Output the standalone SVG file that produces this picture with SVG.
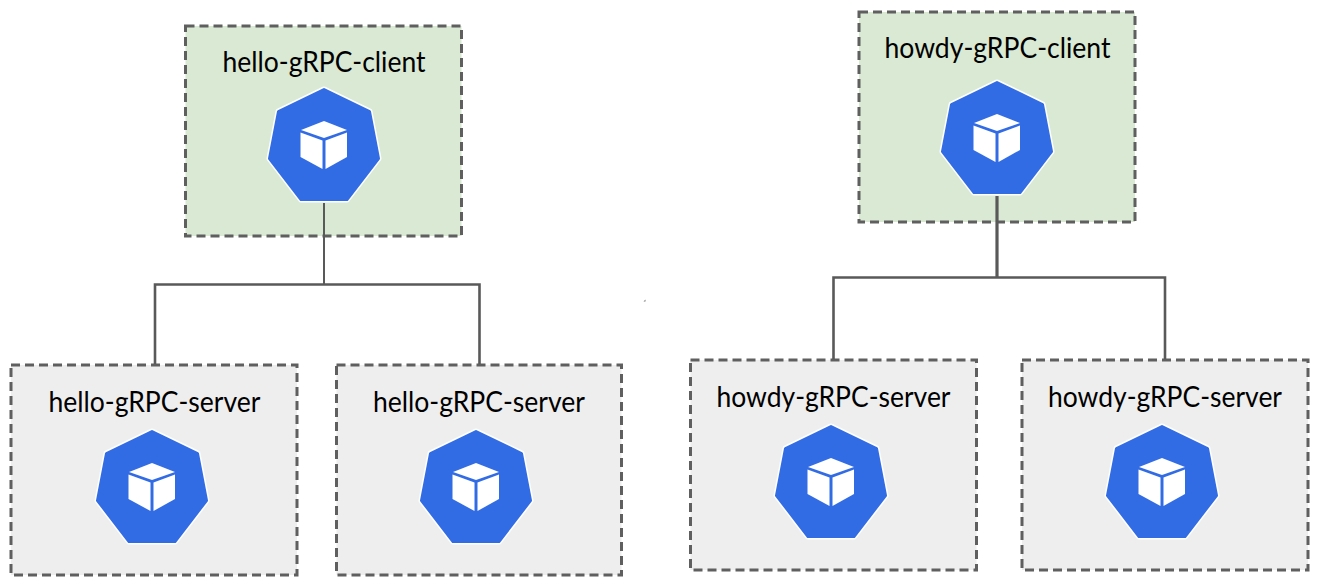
<svg xmlns="http://www.w3.org/2000/svg" xmlns:xlink="http://www.w3.org/1999/xlink" width="1320" height="588" viewBox="0 0 1320 588">
<style>
.box{stroke:#5f5f5f;stroke-width:3;stroke-dasharray:9 5}
.client{fill:#d9e9d3}
.server{fill:#eeeeee}
.lbl{font-family:"Lato","Carlito","Liberation Sans",sans-serif;font-size:28px;fill:#000;text-anchor:middle}
.line{fill:none;stroke:#595959}
</style>
<defs>
<g id="pod" stroke-linejoin="round">
<path d="M0 2.500L45.500 24.500L54.500 71.500L23 112.500H-23L-54.500 71.500L-45.500 24.500Z" fill="#fff" stroke="#fff" stroke-width="6"/>
<path d="M0 2.500L45.500 24.500L54.500 71.500L23 112.500H-23L-54.500 71.500L-45.500 24.500Z" fill="#326ce5" stroke="#326ce5" stroke-width="3"/>
<path d="M0 34L23 43L0 51L-23 43Z" fill="#fff"/>
<path d="M-23.500 45.500L-1.500 53.500V82L-23.500 70Z" fill="#fff"/>
<path d="M23 45.500L1.500 53.500V82L23 70Z" fill="#fff"/>
</g>
</defs>
<rect width="1320" height="588" fill="#fff"/>
<g id="hello-client">
<rect class="box client" x="185.500" y="26" width="276" height="210"/>
<text class="lbl" x="324" y="71.500" textLength="203" lengthAdjust="spacingAndGlyphs">hello-gRPC-client</text>
<use xlink:href="#pod" href="#pod" x="324" y="87"/>
</g>
<g id="howdy-client">
<rect class="box client" x="859" y="12" width="276" height="210"/>
<text class="lbl" x="997.500" y="57.500" textLength="226" lengthAdjust="spacingAndGlyphs">howdy-gRPC-client</text>
<use xlink:href="#pod" href="#pod" x="997" y="80"/>
</g>
<g id="hello-server-1">
<rect class="box server" x="11" y="365" width="286" height="210"/>
<text class="lbl" x="154.500" y="411.500" textLength="212" lengthAdjust="spacingAndGlyphs">hello-gRPC-server</text>
<use xlink:href="#pod" href="#pod" x="152" y="429"/>
</g>
<g id="hello-server-2">
<rect class="box server" x="336.500" y="365" width="285" height="210"/>
<text class="lbl" x="479" y="411.500" textLength="212" lengthAdjust="spacingAndGlyphs">hello-gRPC-server</text>
<use xlink:href="#pod" href="#pod" x="476" y="429"/>
</g>
<g id="howdy-server-1">
<rect class="box server" x="690.500" y="360" width="286" height="210"/>
<text class="lbl" x="833.500" y="406.500" textLength="234" lengthAdjust="spacingAndGlyphs">howdy-gRPC-server</text>
<use xlink:href="#pod" href="#pod" x="831" y="424"/>
</g>
<g id="howdy-server-2">
<rect class="box server" x="1022" y="360" width="286" height="210"/>
<text class="lbl" x="1165" y="406.500" textLength="234" lengthAdjust="spacingAndGlyphs">howdy-gRPC-server</text>
<use xlink:href="#pod" href="#pod" x="1162" y="424"/>
</g>
<g id="connectors">
<path class="line" stroke-width="2" d="M324 203V284"/>
<path class="line" stroke-width="2.600" d="M155 364V284.500H479.500V364"/>
<path class="line" stroke-width="3.200" d="M997 196V277"/>
<path class="line" stroke-width="2.600" d="M833.500 359V277.500H1165V359"/>
</g>
<path d="M643.500 301.500L645.500 299.500V301.500Z" fill="#777"/>
</svg>
